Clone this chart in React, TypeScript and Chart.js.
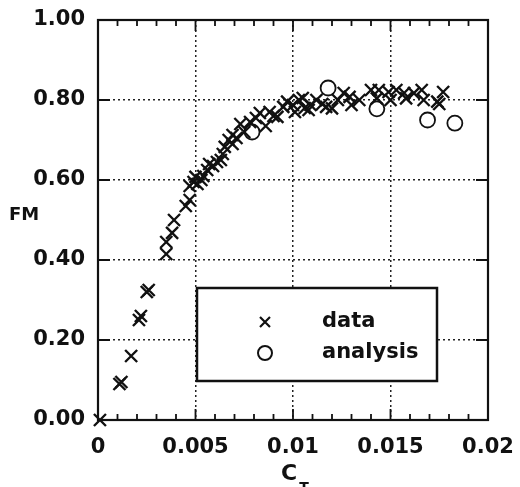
import React, { useEffect, useRef } from 'react';
import { Chart, registerables } from 'chart.js';

Chart.register(...registerables);

const FONT = '"DejaVu Sans", "Liberation Sans", sans-serif';

const xTickLabels = ['0', '0.005', '0.01', '0.015', '0.02'];
const yTickLabels = ['0.00', '0.20', '0.40', '0.60', '0.80', '1.00'];
const xTitle = 'C';
const xTitleSub = 'T';
const yTitle = 'FM';
const legendLabels = ['data', 'analysis'];

const dataCT = [
  0.0001, 0.0011, 0.0012, 0.0017, 0.0021, 0.0022, 0.0025, 0.0026, 0.0035, 0.0035,
  0.0038, 0.0039, 0.0045, 0.0047, 0.0047, 0.0049, 0.005, 0.0051, 0.0053, 0.0054,
  0.0056, 0.0057, 0.0059, 0.0061, 0.0063, 0.0064, 0.0065, 0.0067, 0.0069, 0.0069,
  0.0071, 0.0073, 0.0075, 0.0078, 0.0081, 0.0083, 0.0086, 0.0088, 0.009, 0.0092,
  0.0095, 0.0097, 0.01, 0.0101, 0.0103, 0.0105, 0.0106, 0.0108, 0.0109, 0.0112,
  0.0115, 0.0117, 0.012, 0.0123, 0.0126, 0.0129, 0.013, 0.0134, 0.014, 0.0143,
  0.0144, 0.0149, 0.015, 0.0153, 0.0157, 0.0158, 0.0162, 0.0166, 0.0167, 0.0174,
  0.0175, 0.0177,
];
const dataFM = [
  0.0, 0.09, 0.095, 0.16, 0.25, 0.26, 0.32, 0.325, 0.415, 0.445,
  0.468, 0.5, 0.535, 0.55, 0.585, 0.595, 0.608, 0.59, 0.6, 0.61,
  0.625, 0.64, 0.635, 0.645, 0.65, 0.665, 0.683, 0.7, 0.69, 0.7125,
  0.705, 0.74, 0.72, 0.745, 0.755, 0.7675, 0.735, 0.77, 0.76, 0.758,
  0.783, 0.796, 0.7875, 0.77, 0.8, 0.805, 0.78, 0.775, 0.7875, 0.8,
  0.79, 0.783, 0.779, 0.8, 0.8175, 0.808, 0.7875, 0.8, 0.825, 0.804,
  0.825, 0.82, 0.8, 0.825, 0.8175, 0.804, 0.817, 0.825, 0.8, 0.796,
  0.79, 0.82,
];

const analysisCT = [0.0079, 0.0118, 0.0143, 0.0169, 0.0183];
const analysisFM = [0.72, 0.83, 0.778, 0.75, 0.742];

const INK = '#111';

const framePlugin = {
  id: 'frame',
  beforeDatasetsDraw(chart: any) {
    const { ctx, chartArea: ca, scales } = chart;
    const xs = scales.x;
    const ys = scales.y;
    ctx.save();
    ctx.strokeStyle = INK;
    ctx.setLineDash([]);
    ctx.lineWidth = 1.8;
    for (let i = 0; i <= 20; i++) {
      const px = xs.getPixelForValue(i * 0.001);
      const len = i % 5 === 0 ? 11 : 6;
      ctx.beginPath();
      ctx.moveTo(px, ca.bottom);
      ctx.lineTo(px, ca.bottom - len);
      ctx.moveTo(px, ca.top);
      ctx.lineTo(px, ca.top + len);
      ctx.stroke();
    }
    for (let i = 0; i <= 5; i++) {
      const py = ys.getPixelForValue(i * 0.2);
      ctx.beginPath();
      ctx.moveTo(ca.left, py);
      ctx.lineTo(ca.left + 12, py);
      ctx.moveTo(ca.right, py);
      ctx.lineTo(ca.right - 12, py);
      ctx.stroke();
    }
    ctx.lineWidth = 2.2;
    ctx.strokeRect(ca.left, ca.top, ca.right - ca.left, ca.bottom - ca.top);
    ctx.restore();
  },
  afterDatasetsDraw(chart: any) {
    const { ctx, chartArea: ca } = chart;
    ctx.save();
    const lx = ca.left + 99;
    const ly = ca.top + 268;
    const lw = 240;
    const lh = 93;
    ctx.fillStyle = '#fff';
    ctx.fillRect(lx, ly, lw, lh);
    ctx.strokeStyle = INK;
    ctx.lineWidth = 2.5;
    ctx.setLineDash([]);
    ctx.strokeRect(lx, ly, lw, lh);
    const mx = lx + 68;
    const y1 = ly + 34;
    const y2 = ly + 65;
    ctx.lineWidth = 2.2;
    ctx.beginPath();
    ctx.moveTo(mx - 5, y1 - 5);
    ctx.lineTo(mx + 5, y1 + 5);
    ctx.moveTo(mx + 5, y1 - 5);
    ctx.lineTo(mx - 5, y1 + 5);
    ctx.stroke();
    ctx.lineWidth = 2;
    ctx.beginPath();
    ctx.arc(mx, y2, 7, 0, Math.PI * 2);
    ctx.stroke();
    ctx.fillStyle = INK;
    ctx.font = `bold 21px ${FONT}`;
    ctx.textAlign = 'left';
    ctx.textBaseline = 'middle';
    ctx.fillText(legendLabels[0], lx + 125, y1);
    ctx.fillText(legendLabels[1], lx + 125, y2);
    ctx.font = `bold 18px ${FONT}`;
    ctx.textAlign = 'left';
    ctx.fillText(yTitle, 9, 215);
    ctx.font = `bold 22px ${FONT}`;
    ctx.textAlign = 'center';
    ctx.fillText(xTitle, 289, 474);
    ctx.font = `bold 14px ${FONT}`;
    ctx.fillText(xTitleSub, 304, 488);
    ctx.restore();
  },
};

export default function App() {
  const ref = useRef<HTMLCanvasElement | null>(null);
  useEffect(() => {
    if (!ref.current) return;
    const chart = new Chart(ref.current, {
      type: 'scatter',
      data: {
        datasets: [
          {
            label: legendLabels[0],
            data: dataCT.map((x, i) => ({ x, y: dataFM[i] })),
            pointStyle: 'crossRot',
            pointRadius: 8.5,
            borderWidth: 2.4,
            borderColor: INK,
            backgroundColor: INK,
            clip: false,
          } as any,
          {
            label: legendLabels[1],
            data: analysisCT.map((x, i) => ({ x, y: analysisFM[i] })),
            pointStyle: 'circle',
            pointRadius: 7.5,
            borderWidth: 1.8,
            borderColor: INK,
            backgroundColor: '#fff',
            clip: false,
          } as any,
        ],
      },
      options: {
        responsive: false,
        animation: false,
        events: [],
        layout: { padding: { top: 20, right: 32, left: 0, bottom: 0 } },
        plugins: { legend: { display: false }, tooltip: { enabled: false }, title: { display: false } },
        scales: {
          x: {
            type: 'linear',
            min: 0,
            max: 0.02,
            afterFit: (s: any) => {
              s.height = 67;
              s.paddingLeft = 0;
              s.paddingRight = 0;
              s.paddingTop = 0;
              s.paddingBottom = 0;
            },
            ticks: {
              stepSize: 0.005,
              padding: 15,
              color: INK,
              maxRotation: 0,
              font: { family: FONT, size: 21, weight: 'bold' },
              callback: (_v: any, i: number) => xTickLabels[i],
            },
            grid: { color: '#222', lineWidth: 1.5, drawTicks: false },
            border: { display: false, dash: [2, 3] },
          },
          y: {
            type: 'linear',
            min: 0,
            max: 1,
            afterFit: (s: any) => {
              s.width = 98;
              s.paddingLeft = 0;
              s.paddingRight = 0;
              s.paddingTop = 0;
              s.paddingBottom = 0;
            },
            ticks: {
              stepSize: 0.2,
              padding: 13,
              color: INK,
              font: { family: FONT, size: 21, weight: 'bold' },
              callback: (_v: any, i: number) => yTickLabels[i],
            },
            grid: { color: '#222', lineWidth: 1.5, drawTicks: false },
            border: { display: false, dash: [2, 3] },
          },
        },
      },
      plugins: [framePlugin],
    });
    return () => chart.destroy();
  }, []);
  return (
    <div style={{ position: 'absolute', left: 0, top: 0, width: 520, height: 487, background: '#fff' }}>
      <canvas ref={ref} width={520} height={487} style={{ display: 'block' }} />
    </div>
  );
}
